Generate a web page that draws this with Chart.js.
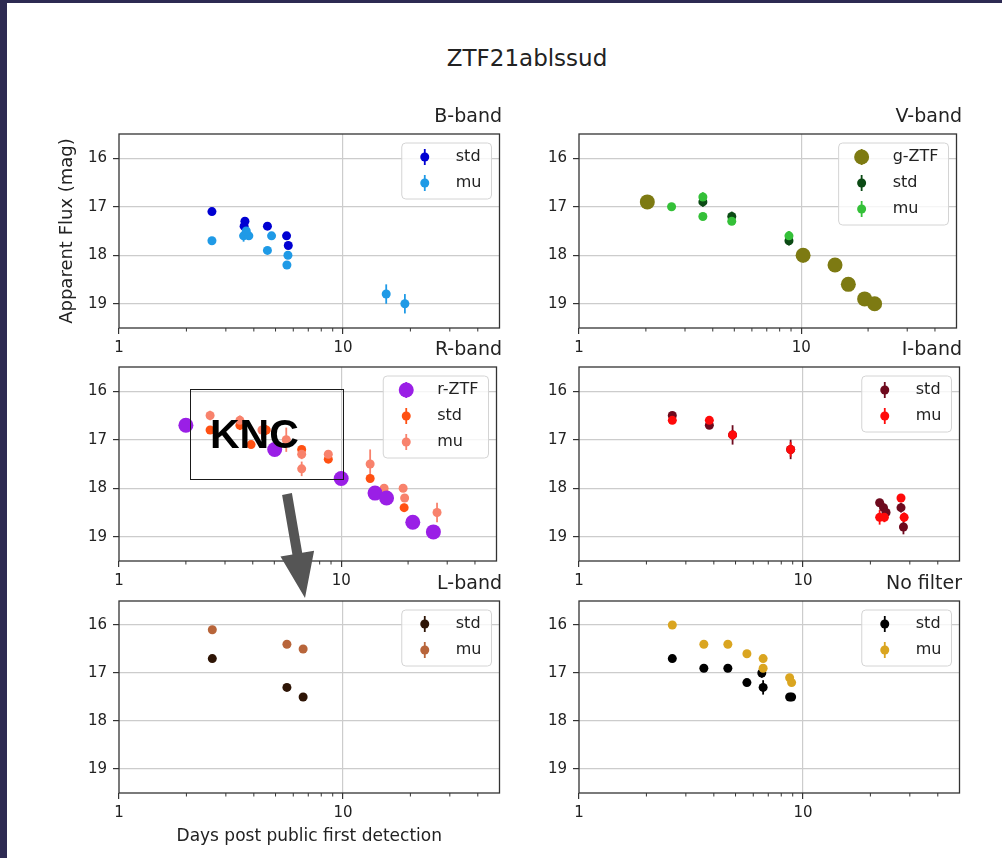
<!DOCTYPE html>
<html>
<head>
<meta charset="utf-8">
<script src="https://cdn.jsdelivr.net/npm/chart.js@4.4.0/dist/chart.umd.min.js"></script>
<style>
  body { margin: 0; background: #fff; width: 1002px; height: 858px; overflow: hidden; position: relative; font-family: "DejaVu Sans", sans-serif; }
  canvas { position: absolute; }
  .edge { position: absolute; background: #2d2a52; }
  #suptitle { position: absolute; left: 0; width: 1054px; top: 44px; line-height: 28px; text-align: center; font-size: 23px; color: #222; }
  #knc { position: absolute; left: 190px; top: 389px; width: 152px; height: 89px; border: 1.8px solid #1a1a1a; }
  #knc span { position: absolute; left: 19px; top: 21px; font: bold 41px "Liberation Sans", Arial, sans-serif; color: #000; line-height: 46px; }
  #arrow { position: absolute; left: 0; top: 0; }
</style>
</head>
<body>
<div class="edge" style="left:0;top:0;width:7px;height:858px"></div>
<div class="edge" style="left:0;top:0;width:1002px;height:3px"></div>
<div id="suptitle">ZTF21ablssud</div>

<canvas id="cB" width="455" height="254" style="left:49px;top:104px"></canvas>
<canvas id="cV" width="455" height="254" style="left:509px;top:104px"></canvas>
<canvas id="cR" width="455" height="254" style="left:49px;top:337px"></canvas>
<canvas id="cI" width="455" height="254" style="left:509px;top:337px"></canvas>
<canvas id="cL" width="455" height="282" style="left:49px;top:571px"></canvas>
<canvas id="cN" width="455" height="252" style="left:509px;top:571px"></canvas>

<div id="knc"><span>KNC</span></div>
<svg id="arrow" width="1002" height="858">
  <polygon points="282.1,494.9 291.9,493.1 302.2,552.7 314.1,550.7 305,598 280.5,556.5 292.4,554.5" fill="#555"/>
</svg>

<script>
// axes
const xMin = 1, xMax = 50;
const yMin = 15.5, yMax = 19.5;
const xTicks = [1, 10];
const xMinor = [2, 3, 4, 5, 6, 7, 8, 9, 20, 30, 40];
const yTicks = [16, 17, 18, 19];

// B-band
const bStdDays = [2.6, 3.65, 3.62, 4.6, 5.6, 5.7];
const bStdMag  = [17.1, 17.3, 17.4, 17.4, 17.6, 17.8];
const bStdErr  = [0.05, 0.07, 0.06, 0.05, 0.06, 0.07];
const bMuDays  = [2.6, 3.6, 3.8, 3.7, 4.6, 4.8, 5.68, 5.62, 15.6, 18.9];
const bMuMag   = [17.7, 17.6, 17.6, 17.5, 17.9, 17.6, 18.0, 18.2, 18.8, 19.0];
const bMuErr   = [0.05, 0.12, 0.06, 0.05, 0.06, 0.06, 0.06, 0.07, 0.2, 0.2];

// V-band
const gZtfDays = [2.03, 10.2, 14.2, 16.3, 19.3, 21.4];
const gZtfMag  = [16.9, 18.0, 18.2, 18.6, 18.9, 19.0];
const gZtfErr  = [0.05, 0.15, 0.08, 0.06, 0.05, 0.05];
const vStdDays = [3.61, 4.87, 8.81];
const vStdMag  = [16.9, 17.2, 17.7];
const vStdErr  = [0.1, 0.1, 0.1];
const vMuDays  = [2.61, 3.61, 3.61, 4.87, 8.81];
const vMuMag   = [17.0, 16.8, 17.2, 17.3, 17.6];
const vMuErr   = [0.05, 0.1, 0.05, 0.07, 0.1];

// R-band
const rZtfDays = [2.0, 5.02, 10.0, 14.2, 16.0, 21.0, 26.0];
const rZtfMag  = [16.7, 17.2, 17.8, 18.1, 18.2, 18.7, 18.9];
const rZtfErr  = [0.05, 0.05, 0.05, 0.1, 0.05, 0.05, 0.05];
const rStdDays = [2.57, 3.5, 3.93, 4.6, 6.64, 8.75, 13.5, 15.7, 19.2];
const rStdMag  = [16.8, 16.7, 17.1, 16.8, 17.2, 17.4, 17.8, 18.1, 18.4];
const rStdErr  = [0.08, 0.1, 0.06, 0.1, 0.06, 0.06, 0.06, 0.06, 0.08];
const rMuDays  = [2.57, 3.5, 4.4, 5.66, 6.64, 6.64, 8.75, 13.5, 15.6, 19.0, 19.3, 27.0];
const rMuMag   = [16.5, 16.6, 16.8, 17.0, 17.3, 17.6, 17.3, 17.5, 18.0, 18.0, 18.2, 18.5];
const rMuErr   = [0.1, 0.1, 0.2, 0.25, 0.1, 0.15, 0.06, 0.3, 0.08, 0.06, 0.08, 0.2];

// I-band
const iStdDays = [2.61, 3.82, 4.85, 8.81, 22.0, 22.9, 23.5, 27.4, 28.1];
const iStdMag  = [16.5, 16.7, 16.9, 17.2, 18.3, 18.4, 18.5, 18.4, 18.8];
const iStdErr  = [0.05, 0.05, 0.2, 0.2, 0.08, 0.1, 0.1, 0.1, 0.15];
const iMuDays  = [2.61, 3.82, 4.85, 8.81, 22.0, 23.1, 27.4, 28.3];
const iMuMag   = [16.6, 16.6, 16.9, 17.2, 18.6, 18.6, 18.2, 18.6];
const iMuErr   = [0.05, 0.07, 0.1, 0.15, 0.15, 0.1, 0.08, 0.1];

// L-band
const lStdDays = [2.61, 5.62, 6.64];
const lStdMag  = [16.7, 17.3, 17.5];
const lStdErr  = [0.05, 0.07, 0.06];
const lMuDays  = [2.61, 5.62, 6.64];
const lMuMag   = [16.1, 16.4, 16.5];
const lMuErr   = [0.05, 0.07, 0.07];

// No filter
const nStdDays = [2.61, 3.61, 4.62, 5.62, 6.55, 6.64, 8.72, 8.9];
const nStdMag  = [16.7, 16.9, 16.9, 17.2, 17.0, 17.3, 17.5, 17.5];
const nStdErr  = [0.05, 0.05, 0.05, 0.05, 0.1, 0.15, 0.05, 0.05];
const nMuDays  = [2.61, 3.61, 4.62, 5.62, 6.64, 6.64, 8.72, 8.9];
const nMuMag   = [16.0, 16.4, 16.4, 16.6, 16.7, 16.9, 17.1, 17.2];
const nMuErr   = [0.05, 0.05, 0.05, 0.05, 0.05, 0.05, 0.05, 0.05];

Chart.defaults.font.family = '"DejaVu Sans", sans-serif';
Chart.defaults.color = '#222';

function series(label, xs, ys, errs, color, r, order) {
    return {
        label: label,
        data: xs.map((x, i) => ({ x: x, y: ys[i] })),
        err: errs,
        backgroundColor: color,
        borderColor: color,
        pointRadius: r,
        pointHoverRadius: r,
        pointBorderWidth: 0,
        showLine: false,
        order: order
    };
}

// vertical error bars, drawn through the y scale
const errorBars = {
    id: 'errorBars',
    beforeDatasetsDraw(chart) {
        const ctx = chart.ctx, ys = chart.scales.y;
        chart.data.datasets.forEach((ds, di) => {
            const meta = chart.getDatasetMeta(di);
            ctx.save();
            ctx.strokeStyle = ds.borderColor;
            ctx.lineWidth = 1.8;
            meta.data.forEach((pt, i) => {
                const v = ds.data[i].y, e = ds.err[i];
                ctx.beginPath();
                ctx.moveTo(pt.x, ys.getPixelForValue(v - e));
                ctx.lineTo(pt.x, ys.getPixelForValue(v + e));
                ctx.stroke();
            });
            ctx.restore();
        });
    }
};

// full box round the axes + short minor ticks
const frame = {
    id: 'frame',
    afterDatasetsDraw(chart) {
        const ctx = chart.ctx, a = chart.chartArea, xs = chart.scales.x;
        ctx.save();
        ctx.strokeStyle = '#333';
        ctx.lineWidth = 1.3;
        ctx.strokeRect(a.left, a.top, a.right - a.left, a.bottom - a.top);
        ctx.lineWidth = 1;
        ctx.beginPath();
        xMinor.forEach(v => {
            const px = xs.getPixelForValue(v);
            ctx.moveTo(px, a.bottom);
            ctx.lineTo(px, a.bottom + 3.5);
        });
        ctx.stroke();
        ctx.restore();
    }
};

// matplotlib-like legend inside the upper right corner
const boxLegend = {
    id: 'boxLegend',
    afterDraw(chart) {
        const ctx = chart.ctx, a = chart.chartArea, sets = chart.data.datasets;
        ctx.save();
        ctx.font = '16px "DejaVu Sans"';
        const tw = Math.max(...sets.map(d => ctx.measureText(d.label).width));
        const w = 54 + tw + 10, h = 26 * sets.length + 4;
        const x0 = a.right - 8 - w, y0 = a.top + 9;
        ctx.beginPath();
        ctx.roundRect(x0, y0, w, h, 4);
        ctx.fillStyle = 'rgba(255,255,255,0.8)';
        ctx.fill();
        ctx.strokeStyle = '#d4d4d4';
        ctx.lineWidth = 1;
        ctx.stroke();
        sets.forEach((d, i) => {
            const cx = x0 + 23, cy = y0 + 14 + 26 * i;
            ctx.strokeStyle = d.borderColor;
            ctx.lineWidth = 1.8;
            ctx.beginPath();
            ctx.moveTo(cx, cy - 8);
            ctx.lineTo(cx, cy + 8);
            ctx.stroke();
            ctx.fillStyle = d.backgroundColor;
            ctx.beginPath();
            ctx.arc(cx, cy, d.pointRadius, 0, Math.PI * 2);
            ctx.fill();
            ctx.fillStyle = '#222';
            ctx.textBaseline = 'middle';
            ctx.fillText(d.label, x0 + 54, cy);
        });
        ctx.restore();
    }
};

function panel(id, title, datasets, xAxisH, yTitle, xTitle) {
    new Chart(document.getElementById(id), {
        type: 'scatter',
        data: { datasets: datasets },
        plugins: [errorBars, frame, boxLegend],
        options: {
            responsive: false,
            animation: false,
            events: [],
            layout: { padding: { left: 0, right: 2, top: 0, bottom: 0 } },
            plugins: {
                legend: { display: false },
                tooltip: { enabled: false },
                title: {
                    display: true,
                    text: title,
                    align: 'end',
                    color: '#222',
                    font: { size: 19, weight: 'normal', lineHeight: 1.2 },
                    padding: { top: 2, bottom: 5.2 }
                }
            },
            scales: {
                x: {
                    type: 'logarithmic',
                    min: xMin,
                    max: xMax,
                    afterBuildTicks: s => { s.ticks = xTicks.map(v => ({ value: v })); },
                    afterFit: s => { s.height = xAxisH; },
                    ticks: { callback: v => String(v), color: '#222', font: { size: 15 }, padding: 5, maxRotation: 0, autoSkip: false },
                    grid: {
                        color: c => (c.tick && c.tick.value === 10) ? '#cccccc' : 'rgba(0,0,0,0)',
                        lineWidth: 1.2,
                        tickColor: '#333',
                        tickLength: 6
                    },
                    border: { display: false },
                    title: {
                        display: !!xTitle,
                        text: xTitle || '',
                        color: '#222',
                        font: { size: 17 },
                        padding: { top: 0, bottom: 6 }
                    }
                },
                y: {
                    reverse: true,
                    min: yMin,
                    max: yMax,
                    afterBuildTicks: s => { s.ticks = yTicks.map(v => ({ value: v })); },
                    afterFit: s => { s.width = 70; },
                    ticks: { color: '#222', font: { size: 15 }, padding: 6 },
                    grid: { color: '#cccccc', lineWidth: 1.2, tickColor: '#333', tickLength: 6 },
                    border: { display: false },
                    title: {
                        display: !!yTitle,
                        text: yTitle || '',
                        color: '#222',
                        font: { size: 18 },
                        padding: { top: 8, bottom: 0 }
                    }
                }
            }
        }
    });
}

panel('cB', 'B-band', [
    series('std', bStdDays, bStdMag, bStdErr, '#0000d2', 4.5, 2),
    series('mu', bMuDays, bMuMag, bMuErr, '#1f9ae6', 4.5, 1)
], 30, 'Apparent Flux (mag)', null);

panel('cV', 'V-band', [
    series('g-ZTF', gZtfDays, gZtfMag, gZtfErr, '#7d7a12', 7.5, 0),
    series('std', vStdDays, vStdMag, vStdErr, '#0b4a14', 4.5, 2),
    series('mu', vMuDays, vMuMag, vMuErr, '#34c038', 4.5, 1)
], 30, null, null);

panel('cR', 'R-band', [
    series('r-ZTF', rZtfDays, rZtfMag, rZtfErr, '#9a1fe6', 7.5, 0),
    series('std', rStdDays, rStdMag, rStdErr, '#ff5012', 4.5, 2),
    series('mu', rMuDays, rMuMag, rMuErr, '#f8826c', 4.5, 1)
], 30, null, null);

panel('cI', 'I-band', [
    series('std', iStdDays, iStdMag, iStdErr, '#6e0a1e', 4.5, 2),
    series('mu', iMuDays, iMuMag, iMuErr, '#ff0a0a', 4.5, 1)
], 30, null, null);

panel('cL', 'L-band', [
    series('std', lStdDays, lStdMag, lStdErr, '#2e1506', 4.5, 2),
    series('mu', lMuDays, lMuMag, lMuErr, '#b8653a', 4.5, 1)
], 60, null, 'Days post public first detection');

panel('cN', 'No filter', [
    series('std', nStdDays, nStdMag, nStdErr, '#000000', 4.5, 2),
    series('mu', nMuDays, nMuMag, nMuErr, '#daa520', 4.5, 1)
], 30, null, null);
</script>
</body>
</html>
